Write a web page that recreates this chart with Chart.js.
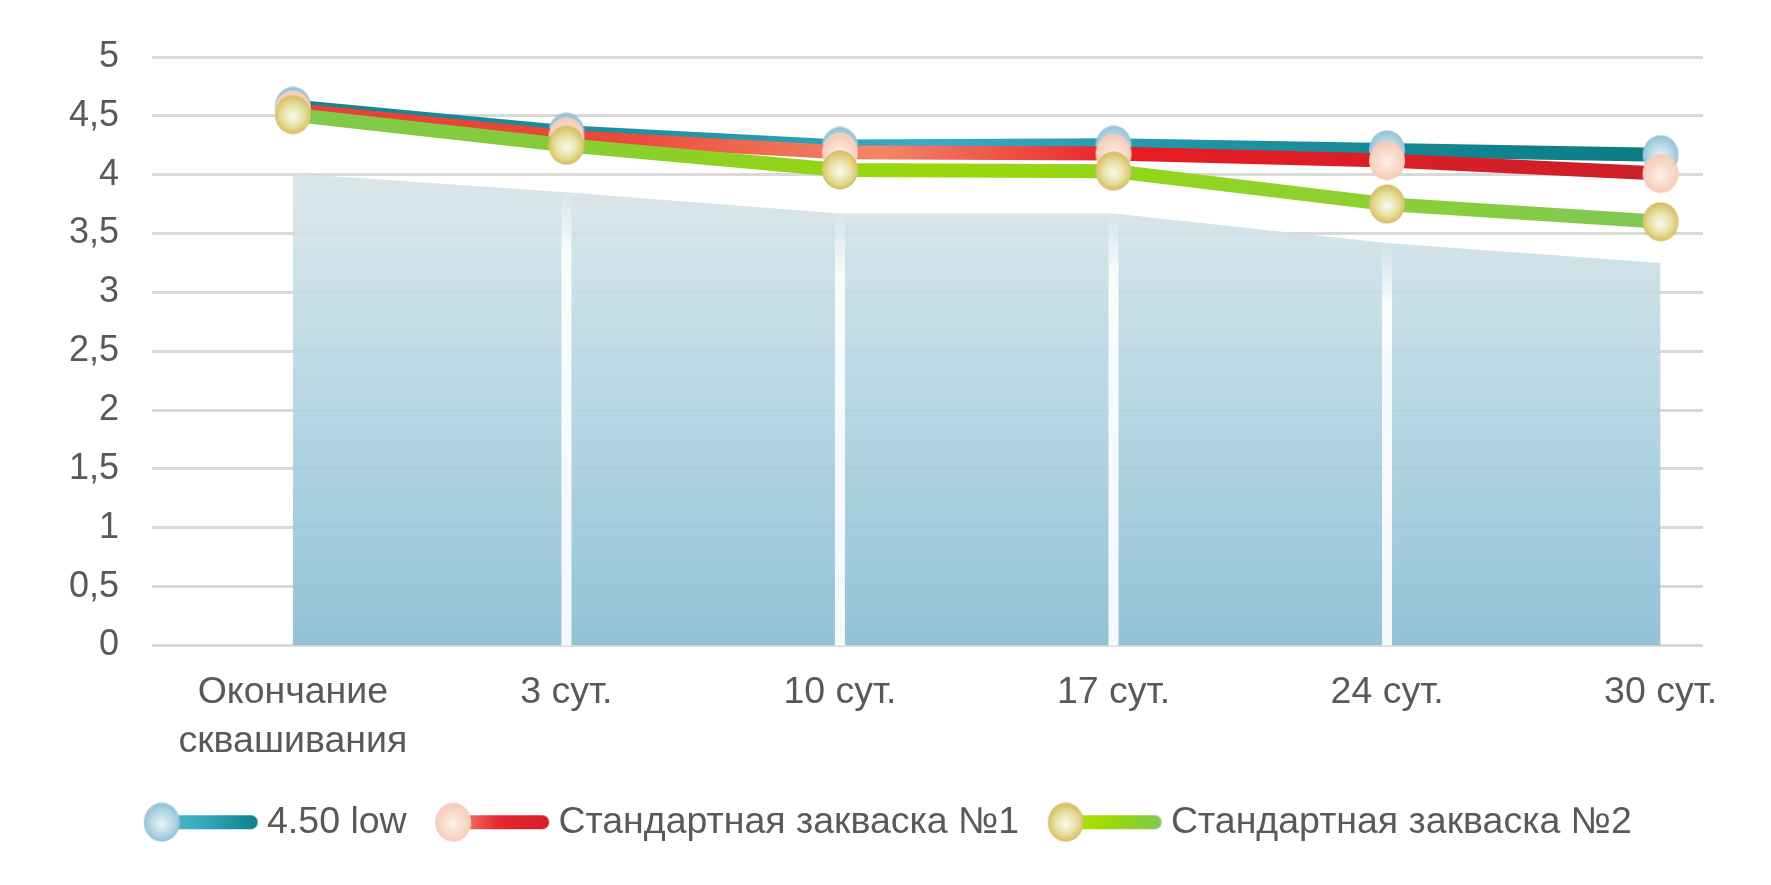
<!DOCTYPE html>
<html>
<head>
<meta charset="utf-8">
<script src="https://cdn.jsdelivr.net/npm/chart.js@4.4.1/dist/chart.umd.min.js"></script>
<style>
  html, body { margin: 0; padding: 0; background: #fff; }
</style>
</head>
<body>
<canvas id="myChart" width="1771" height="885"></canvas>
<script>
// data
const labels = [['Окончание', 'сквашивания'], '3 сут.', '10 сут.', '17 сут.', '24 сут.', '30 сут.'];
const low450 = [4.58, 4.36, 4.24, 4.25, 4.21, 4.17];
const starter1 = [4.55, 4.32, 4.19, 4.18, 4.12, 4.01];
const starter2 = [4.51, 4.25, 4.04, 4.03, 3.75, 3.60];
const backArea = [4.01, 3.85, 3.67, 3.67, 3.42, 3.25];
const yTicks = [0, 0.5, 1, 1.5, 2, 2.5, 3, 3.5, 4, 4.5, 5];
const yTickText = ['0', '0,5', '1', '1,5', '2', '2,5', '3', '3,5', '4', '4,5', '5'];

const textColor = '#595959';
const fontFamily = '"Liberation Sans", Arial, sans-serif';

// glossy round marker
function ball(edge, mid, center) {
  const c = document.createElement('canvas');
  c.width = 38; c.height = 40;
  const g = c.getContext('2d');
  const grad = g.createRadialGradient(19, 22, 1, 19, 20, 20);
  grad.addColorStop(0, center);
  grad.addColorStop(0.5, mid);
  grad.addColorStop(1, edge);
  g.fillStyle = grad;
  g.beginPath();
  g.ellipse(19, 20, 18, 19.5, 0, 0, Math.PI * 2);
  g.fill();
  return c;
}

const balls = [
  ball('#8cc0d6', '#bcd9e5', '#e8f2f5'),
  ball('#f5c9b4', '#fadccc', '#fdf0e6'),
  ball('#d3b95a', '#e9e2a4', '#f5f9ea')
];

// legend icon: thick line with the marker on its left end
function legendIcon(markerImg, stops) {
  const c = document.createElement('canvas');
  c.width = 170; c.height = 40;
  const g = c.getContext('2d');
  const grad = g.createLinearGradient(64, 0, 164, 0);
  stops.forEach(s => grad.addColorStop(s[0], s[1]));
  g.strokeStyle = grad;
  g.lineWidth = 14;
  g.lineCap = 'round';
  g.beginPath();
  g.moveTo(66, 20);
  g.lineTo(153, 20);
  g.stroke();
  g.drawImage(markerImg, 64 - 19, 0);
  return c;
}

const tealStops = [[0, '#5cbccc'], [0.45, '#2ea8bd'], [1, '#0c7d86']];
const redStops = [[0, '#f3927a'], [0.45, '#e8262c'], [1, '#d21f2a']];
const greenStops = [[0, '#b8e000'], [0.5, '#98d80c'], [1, '#7cc85a']];

const legendIcons = [
  legendIcon(balls[0], tealStops),
  legendIcon(balls[1], redStops),
  legendIcon(balls[2], greenStops)
];

function hGradient(chart, stops) {
  const area = chart.chartArea;
  if (!area) return stops[0][1];
  const g = chart.ctx.createLinearGradient(area.left, 0, area.right, 0);
  stops.forEach(s => g.addColorStop(s[0], s[1]));
  return g;
}

const tealLine = [[0, '#0e7f8a'], [0.3, '#1c8fa0'], [0.5, '#38aac4'], [0.72, '#1a8f9e'], [1, '#0a7980']];
const redLine = [[0, '#e63a30'], [0.3, '#ea4a3a'], [0.47, '#f2866a'], [0.63, '#e81c24'], [1, '#c92029']];
const greenLine = [[0, '#7cc85a'], [0.25, '#86cc38'], [0.5, '#9ad80a'], [0.75, '#8fd22e'], [1, '#7cc65a']];

function areaGradient(chart) {
  const area = chart.chartArea;
  if (!area) return '#b8d5e1';
  const g = chart.ctx.createLinearGradient(0, area.top, 0, area.bottom);
  g.addColorStop(0, 'rgba(214,228,233,0.9)');
  g.addColorStop(0.25, 'rgba(212,227,232,0.9)');
  g.addColorStop(0.6, 'rgba(174,210,224,0.9)');
  g.addColorStop(1, 'rgba(138,189,212,0.92)');
  return g;
}

const toPoints = arr => arr.map((v, i) => ({ x: i, y: v }));

// white separators in the background area at inner categories
const gapPlugin = {
  id: 'areaGaps',
  afterDatasetDraw(chart, args) {
    if (args.index !== 3) return;
    const { ctx, chartArea } = chart;
    const pts = args.meta.data;
    ctx.save();
    for (let i = 1; i < pts.length - 1; i++) {
      const p = pts[i];
      const g = ctx.createLinearGradient(0, p.y, 0, p.y + 60);
      g.addColorStop(0, 'rgba(255,255,255,0)');
      g.addColorStop(1, 'rgba(255,255,255,0.9)');
      ctx.fillStyle = g;
      ctx.fillRect(p.x - 5, p.y, 10, chartArea.bottom - p.y);
    }
    ctx.restore();
  }
};

const ctx = document.getElementById('myChart').getContext('2d');

new Chart(ctx, {
  type: 'line',
  data: {
    datasets: [
      {
        label: '4.50 low',
        data: toPoints(low450),
        borderColor: c => hGradient(c.chart, tealLine),
        borderWidth: 14,
        pointStyle: balls[0],
        order: 3
      },
      {
        label: 'Стандартная закваска №1',
        data: toPoints(starter1),
        borderColor: c => hGradient(c.chart, redLine),
        borderWidth: 14,
        pointStyle: balls[1],
        order: 2
      },
      {
        label: 'Стандартная закваска №2',
        data: toPoints(starter2),
        borderColor: c => hGradient(c.chart, greenLine),
        borderWidth: 14,
        pointStyle: balls[2],
        order: 1
      },
      {
        label: 'area',
        data: toPoints(backArea),
        borderWidth: 0,
        pointRadius: 0,
        fill: 'origin',
        backgroundColor: c => areaGradient(c.chart),
        order: 4
      }
    ]
  },
  options: {
    responsive: false,
    animation: false,
    devicePixelRatio: 1,
    layout: { padding: { top: 57, right: 68, bottom: 34, left: 46 } },
    elements: { line: { tension: 0, borderJoinStyle: 'round' } },
    scales: {
      x: {
        type: 'linear',
        min: -0.515,
        max: 5.155,
        afterBuildTicks: axis => { axis.ticks = labels.map((l, i) => ({ value: i })); },
        afterFit: s => { s.height = 156; },
        grid: { display: false, drawTicks: false },
        border: { display: false },
        ticks: {
          callback: v => labels[v],
          color: textColor,
          font: { family: fontFamily, size: 37.5, lineHeight: 1.3 },
          padding: 23,
          maxRotation: 0,
          autoSkip: false
        }
      },
      y: {
        min: 0,
        max: 5,
        afterBuildTicks: axis => { axis.ticks = yTicks.map(v => ({ value: v })); },
        afterFit: s => { s.width = 106; },
        grid: { color: '#d9d9d9', lineWidth: 3, drawTicks: false },
        border: { display: false },
        ticks: {
          callback: v => yTickText[yTicks.indexOf(v)],
          color: textColor,
          font: { family: fontFamily, size: 36 },
          padding: 33
        }
      }
    },
    plugins: {
      tooltip: { enabled: false },
      legend: {
        position: 'bottom',
        labels: {
          usePointStyle: true,
          pointStyleWidth: 131,
          padding: 2,
          color: textColor,
          font: { family: fontFamily, size: 37.5 },
          generateLabels: chart => {
            const items = Chart.defaults.plugins.legend.labels.generateLabels(chart);
            items.forEach(it => { it.pointStyle = legendIcons[it.datasetIndex]; });
            return items
              .filter(it => it.datasetIndex < 3)
              .sort((a, b) => a.datasetIndex - b.datasetIndex);
          }
        }
      }
    }
  },
  plugins: [gapPlugin]
});
</script>
</body>
</html>
